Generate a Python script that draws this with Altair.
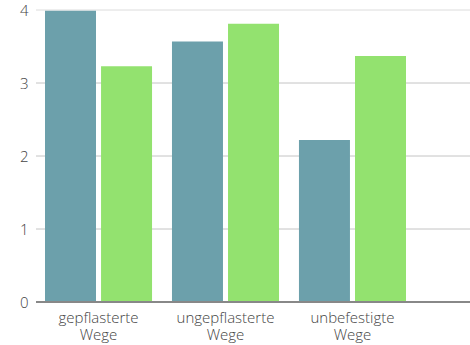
import altair as alt
import pandas as pd

categories = ["gepflasterte Wege", "ungepflasterte Wege", "unbefestigte Wege"]
series = ["A", "B"]
values_a = [3.99, 3.57, 2.22]
values_b = [3.23, 3.81, 3.37]
colors = ["#6ca0ab", "#93e26f"]
grid_values = [1, 2, 3, 4]
grid_colors = ["#c4c4c4", "#c4c4c4", "#c4c4c4", "#dcdcdc"]
y_ticks = [0, 1, 2, 3, 4]

rows = []
for c, a, b in zip(categories, values_a, values_b):
    rows.append({"cat": c, "series": "A", "value": a})
    rows.append({"cat": c, "series": "B", "value": b})
df = pd.DataFrame(rows)
grid_df = pd.DataFrame({"v": grid_values, "col": grid_colors})
base_df = pd.DataFrame({"v": [0]})

yscale = alt.Scale(domain=[0, 4], nice=False)
font = "Open Sans"
yaxis = alt.Axis(values=y_ticks, domain=False, ticks=False, grid=False,
                 labelPadding=8, labelFontSize=15, labelColor="#444",
                 labelFont=font, labelFontWeight=300)

grid = alt.Chart(grid_df).mark_rule(strokeWidth=1).encode(
    y=alt.Y("v:Q", scale=yscale, title=None, axis=yaxis),
    x=alt.value(0), x2=alt.value(434),
    color=alt.Color("col:N", scale=None),
)

bars = alt.Chart(df).mark_bar().encode(
    x=alt.X("cat:N", sort=categories, title=None,
            scale=alt.Scale(range=[9, 370], paddingInner=0.157, paddingOuter=0),
            axis=alt.Axis(labelAngle=0, domain=False, ticks=False, labelPadding=8,
                          labelExpr="split(datum.label, ' ')", labelFontSize=15,
                          labelLineHeight=17, labelColor="#444", labelFont=font,
                          labelFontWeight=300)),
    xOffset=alt.XOffset("series:N", scale=alt.Scale(paddingInner=0.09)),
    y=alt.Y("value:Q", title=None, scale=yscale, axis=yaxis),
    color=alt.Color("series:N", scale=alt.Scale(domain=series, range=colors), legend=None),
)

baseline = alt.Chart(base_df).mark_rule(strokeWidth=2, color="#888888").encode(
    y=alt.Y("v:Q", scale=yscale, title=None, axis=yaxis),
    x=alt.value(0), x2=alt.value(434),
)

chart = alt.layer(grid, bars, baseline).resolve_scale(color="independent").properties(
    width=434, height=292,
    autosize="none",
    padding={"left": 36, "top": 10, "right": 0, "bottom": 43},
).configure_view(stroke=None)

chart.save("out.html", embed_options={"renderer": "svg", "actions": False})
